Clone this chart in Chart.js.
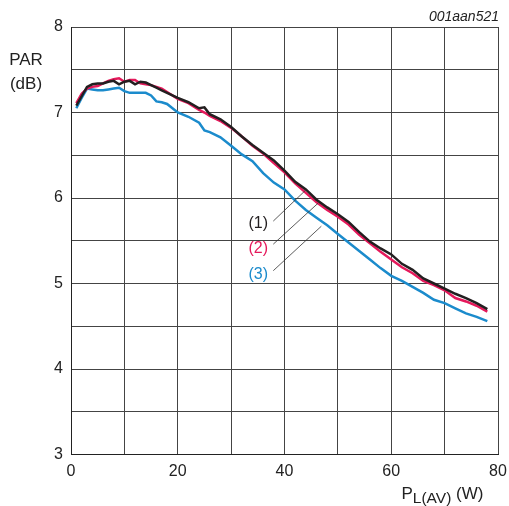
<!DOCTYPE html>
<html>
<head>
<meta charset="utf-8">
<script src="https://cdn.jsdelivr.net/npm/chart.js@4.4.1/dist/chart.umd.min.js"></script>
<style>
  html, body { margin: 0; padding: 0; background: #fff; }
  #wrap { width: 509px; height: 506px; position: relative; }
</style>
</head>
<body>
<div id="wrap"><canvas id="parChart"></canvas></div>
<script>
// ================= DATA =================
const powerW = [1, 2, 3, 4, 5, 6, 7, 8, 9, 10, 11, 12, 13, 14, 15, 16, 17, 18, 20, 22, 24, 25, 26, 28, 30,
    32, 34, 36, 38, 40, 42, 44, 46, 48, 50, 52, 54, 56, 58, 60, 62, 64, 66, 68, 70, 72, 74, 76, 78];

const par1 = [7.08, 7.19, 7.30, 7.33, 7.34, 7.34, 7.36, 7.37, 7.33, 7.36, 7.37, 7.33, 7.36, 7.35, 7.32, 7.29, 7.26, 7.23,
    7.17, 7.12, 7.05, 7.06, 6.98, 6.92, 6.83, 6.72, 6.62, 6.53, 6.44, 6.32, 6.19, 6.10, 5.98, 5.89, 5.81, 5.72,
    5.60, 5.49, 5.41, 5.34, 5.23, 5.16, 5.06, 5.00, 4.94, 4.88, 4.83, 4.77, 4.70];

const par2 = [7.11, 7.22, 7.28, 7.30, 7.31, 7.34, 7.37, 7.39, 7.40, 7.36, 7.38, 7.38, 7.34, 7.33, 7.32, 7.30, 7.28, 7.24,
    7.16, 7.11, 7.03, 7.00, 6.96, 6.90, 6.82, 6.72, 6.61, 6.52, 6.41, 6.30, 6.17, 6.06, 5.95, 5.86, 5.78, 5.69,
    5.57, 5.47, 5.37, 5.28, 5.19, 5.12, 5.03, 4.98, 4.92, 4.83, 4.79, 4.74, 4.67];

const par3 = [7.05, 7.17, 7.28, 7.27, 7.26, 7.26, 7.27, 7.28, 7.29, 7.25, 7.23, 7.23, 7.23, 7.23, 7.20, 7.13, 7.12, 7.10,
    7.00, 6.95, 6.88, 6.79, 6.77, 6.71, 6.61, 6.51, 6.43, 6.29, 6.18, 6.10, 5.97, 5.86, 5.77, 5.68, 5.58, 5.48,
    5.38, 5.28, 5.18, 5.09, 5.03, 4.96, 4.89, 4.81, 4.77, 4.71, 4.65, 4.61, 4.56];

const seriesLabels = ["(1)", "(2)", "(3)"];
const seriesColors = ["#231f20", "#e5195b", "#1b8bcc"];

// label anchor [x, y] and leader line end [x, y], in data units
const labelAt = [[36.9, 5.705], [36.9, 5.405], [36.9, 5.11]];
const leaderFrom = [[37.9, 5.73], [37.9, 5.46], [37.9, 5.15]];
const leaderTo = [[44.1, 6.10], [46.3, 5.94], [46.9, 5.67]];

const xTicksShown = [0, 20, 40, 60, 80];
const yTicksShown = [3, 4, 5, 6, 7, 8];

function toPoints(ys) {
    return powerW.map((x, i) => ({x: x, y: ys[i]}));
}

const FONT = "'Liberation Sans', Arial, sans-serif";

// ================= TEXTOS EXTRA =================
const extraText = {
    id: "extraText",
    afterDatasetsDraw(chart) {
        const c = chart.ctx;
        const xs = chart.scales.x;
        const ys = chart.scales.y;

        c.save();
        // leader lines
        c.strokeStyle = "#333";
        c.lineWidth = 0.8;
        for (let i = 0; i < 3; i++) {
            c.beginPath();
            c.moveTo(xs.getPixelForValue(leaderFrom[i][0]), ys.getPixelForValue(leaderFrom[i][1]));
            c.lineTo(xs.getPixelForValue(leaderTo[i][0]), ys.getPixelForValue(leaderTo[i][1]));
            c.stroke();
        }

        // series labels
        c.font = "16px " + FONT;
        c.textAlign = "right";
        c.textBaseline = "middle";
        for (let i = 0; i < 3; i++) {
            c.fillStyle = seriesColors[i];
            c.fillText(seriesLabels[i], xs.getPixelForValue(labelAt[i][0]), ys.getPixelForValue(labelAt[i][1]));
        }

        // y title
        c.fillStyle = "#222";
        c.textAlign = "center";
        c.textBaseline = "alphabetic";
        c.font = "17px " + FONT;
        c.fillText("PAR", 26, 65);
        c.fillText("(dB)", 26, 89);

        // code
        c.font = "italic 14px " + FONT;
        c.textAlign = "right";
        c.textBaseline = "middle";
        c.fillText("001aan521", 499, 17);

        // x title with subscript
        c.textAlign = "left";
        c.textBaseline = "alphabetic";
        let px = 401.5;
        c.font = "17px " + FONT;
        c.fillText("P", px, 499);
        px += c.measureText("P").width;
        c.font = "15.5px " + FONT;
        c.fillText("L(AV)", px, 503);
        px += c.measureText("L(AV)").width;
        c.font = "17px " + FONT;
        c.fillText(" (W)", px, 499);
        c.restore();
    }
};

// ================= GRÁFICA =================
const ctx = document.getElementById("parChart");

const parChart = new Chart(ctx, {
    type: "line",
    data: {
        datasets: [0, 1, 2].map(i => ({
            label: seriesLabels[i],
            data: toPoints([par1, par2, par3][i]),
            borderColor: seriesColors[i],
            borderWidth: 2.5,
            pointRadius: 0,
            tension: 0,
            fill: false
        }))
    },
    options: {
        responsive: true,
        maintainAspectRatio: false,
        animation: false,
        layout: { padding: { left: 0, right: 11, top: 27, bottom: 0 } },
        plugins: {
            legend: { display: false },
            tooltip: { enabled: false }
        },
        scales: {
            x: {
                type: "linear",
                min: 0,
                max: 80,
                afterFit: s => {
                    s.height = 51.5;
                    s.paddingLeft = 0;
                    s.paddingRight = 0;
                },
                grid: { color: "#444", lineWidth: 1, drawTicks: false },
                border: { color: "#222", width: 1 },
                ticks: {
                    stepSize: 10,
                    padding: 7,
                    maxRotation: 0,
                    autoSkip: false,
                    color: "#222",
                    font: { family: FONT, size: 16 },
                    callback: v => xTicksShown.includes(v) ? v : ""
                }
            },
            y: {
                min: 3,
                max: 8,
                afterFit: s => {
                    s.width = 71;
                    s.paddingTop = 0;
                    s.paddingBottom = 0;
                },
                grid: { color: "#444", lineWidth: 1, drawTicks: false },
                border: { color: "#222", width: 1 },
                ticks: {
                    stepSize: 0.5,
                    padding: 8,
                    autoSkip: false,
                    color: "#222",
                    font: { family: FONT, size: 16 },
                    callback: v => yTicksShown.includes(v) ? v : ""
                }
            }
        }
    },
    plugins: [extraText]
});
</script>
</body>
</html>
